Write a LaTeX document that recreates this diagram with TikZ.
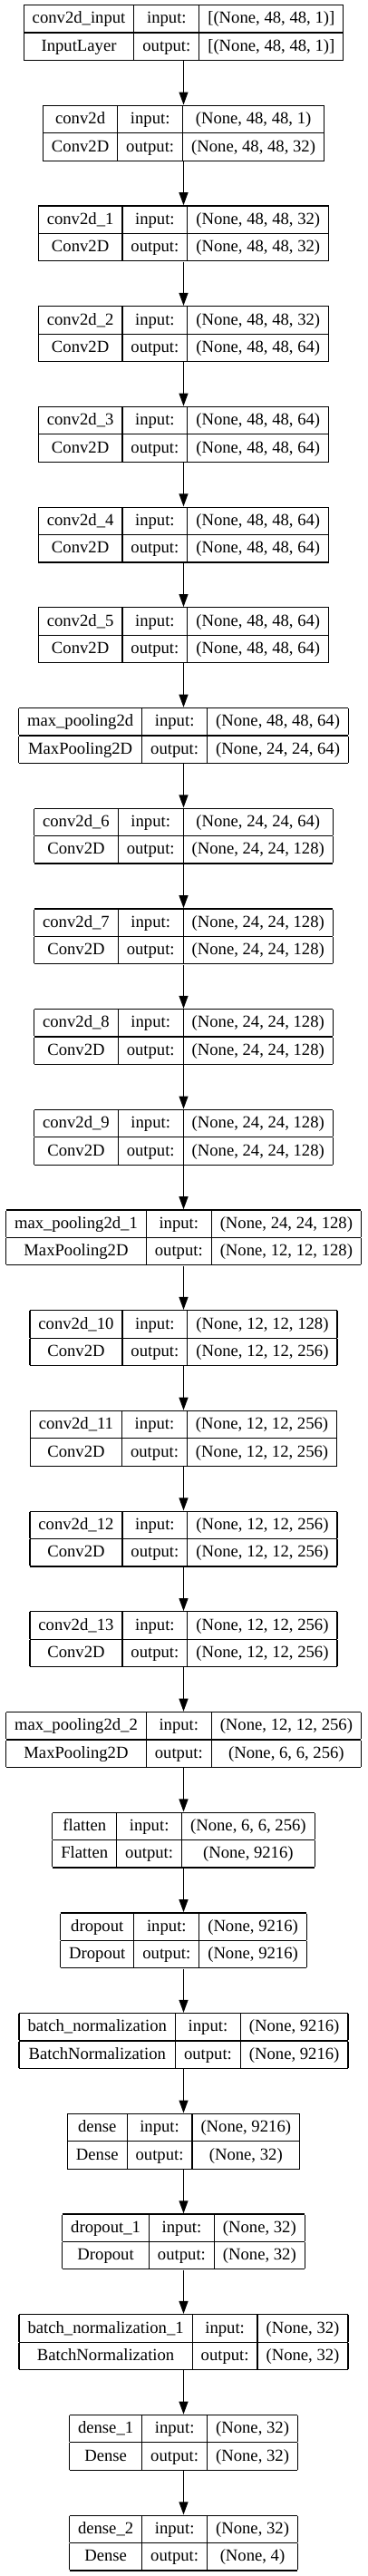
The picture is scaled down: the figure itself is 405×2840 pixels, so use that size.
\documentclass[tikz,border=0pt]{standalone}
\usepackage{fontspec}
\setmainfont{Liberation Serif}
\usepackage{tikz}
\usetikzlibrary{arrows.meta, positioning}
\setlength{\arrayrulewidth}{1.2bp}
\setlength{\tabcolsep}{9.5bp}
\newcommand{\rowstrut}{\rule[-9.5bp]{0pt}{29.2bp}}
\newcommand{\kerasbox}[4]{\begin{tabular}{|c|c|c|}\hline
\rowstrut #1 & input: & #3\\\hline
\rowstrut #2 & output: & #4\\\hline
\end{tabular}}
\tikzset{layer/.style = {inner sep=0pt, font=\fontsize{18.67bp}{22bp}\selectfont}}
\tikzset{arrow/.style = {line width=1.2bp, -{Triangle[length=14bp, width=10bp]}}}

\begin{document}
\begin{tikzpicture}[x=1bp, y=-1bp, node distance=110.7bp, on grid]
\useasboundingbox (0,0) rectangle (405,2840);
\node (input) [layer] at (202.5,36) {\kerasbox{conv2d\_input}{InputLayer}{[(None, 48, 48, 1)]}{[(None, 48, 48, 1)]}};
\node (c0) [layer, below=of input] {\kerasbox{conv2d}{Conv2D}{(None, 48, 48, 1)}{(None, 48, 48, 32)}};
\node (c1) [layer, below=of c0] {\kerasbox{conv2d\_1}{Conv2D}{(None, 48, 48, 32)}{(None, 48, 48, 32)}};
\node (c2) [layer, below=of c1] {\kerasbox{conv2d\_2}{Conv2D}{(None, 48, 48, 32)}{(None, 48, 48, 64)}};
\node (c3) [layer, below=of c2] {\kerasbox{conv2d\_3}{Conv2D}{(None, 48, 48, 64)}{(None, 48, 48, 64)}};
\node (c4) [layer, below=of c3] {\kerasbox{conv2d\_4}{Conv2D}{(None, 48, 48, 64)}{(None, 48, 48, 64)}};
\node (c5) [layer, below=of c4] {\kerasbox{conv2d\_5}{Conv2D}{(None, 48, 48, 64)}{(None, 48, 48, 64)}};
\node (p0) [layer, below=of c5] {\kerasbox{max\_pooling2d}{MaxPooling2D}{(None, 48, 48, 64)}{(None, 24, 24, 64)}};
\node (c6) [layer, below=of p0] {\kerasbox{conv2d\_6}{Conv2D}{(None, 24, 24, 64)}{(None, 24, 24, 128)}};
\node (c7) [layer, below=of c6] {\kerasbox{conv2d\_7}{Conv2D}{(None, 24, 24, 128)}{(None, 24, 24, 128)}};
\node (c8) [layer, below=of c7] {\kerasbox{conv2d\_8}{Conv2D}{(None, 24, 24, 128)}{(None, 24, 24, 128)}};
\node (c9) [layer, below=of c8] {\kerasbox{conv2d\_9}{Conv2D}{(None, 24, 24, 128)}{(None, 24, 24, 128)}};
\node (p1) [layer, below=of c9] {\kerasbox{max\_pooling2d\_1}{MaxPooling2D}{(None, 24, 24, 128)}{(None, 12, 12, 128)}};
\node (c10) [layer, below=of p1] {\kerasbox{conv2d\_10}{Conv2D}{(None, 12, 12, 128)}{(None, 12, 12, 256)}};
\node (c11) [layer, below=of c10] {\kerasbox{conv2d\_11}{Conv2D}{(None, 12, 12, 256)}{(None, 12, 12, 256)}};
\node (c12) [layer, below=of c11] {\kerasbox{conv2d\_12}{Conv2D}{(None, 12, 12, 256)}{(None, 12, 12, 256)}};
\node (c13) [layer, below=of c12] {\kerasbox{conv2d\_13}{Conv2D}{(None, 12, 12, 256)}{(None, 12, 12, 256)}};
\node (p2) [layer, below=of c13] {\kerasbox{max\_pooling2d\_2}{MaxPooling2D}{(None, 12, 12, 256)}{(None, 6, 6, 256)}};
\node (flat) [layer, below=of p2] {\kerasbox{flatten}{Flatten}{(None, 6, 6, 256)}{(None, 9216)}};
\node (drop0) [layer, below=of flat] {\kerasbox{dropout}{Dropout}{(None, 9216)}{(None, 9216)}};
\node (bn0) [layer, below=of drop0] {\kerasbox{batch\_normalization}{BatchNormalization}{(None, 9216)}{(None, 9216)}};
\node (d0) [layer, below=of bn0] {\kerasbox{dense}{Dense}{(None, 9216)}{(None, 32)}};
\node (drop1) [layer, below=of d0] {\kerasbox{dropout\_1}{Dropout}{(None, 32)}{(None, 32)}};
\node (bn1) [layer, below=of drop1] {\kerasbox{batch\_normalization\_1}{BatchNormalization}{(None, 32)}{(None, 32)}};
\node (d1) [layer, below=of bn1] {\kerasbox{dense\_1}{Dense}{(None, 32)}{(None, 32)}};
\node (d2) [layer, below=of d1] {\kerasbox{dense\_2}{Dense}{(None, 32)}{(None, 4)}};
\foreach \a/\b in {input/c0, c0/c1, c1/c2, c2/c3, c3/c4, c4/c5, c5/p0, p0/c6, c6/c7, c7/c8, c8/c9, c9/p1, p1/c10, c10/c11, c11/c12, c12/c13, c13/p2, p2/flat, flat/drop0, drop0/bn0, bn0/d0, d0/drop1, drop1/bn1, bn1/d1, d1/d2}
  \draw [arrow] (\a) -- (\b);
\end{tikzpicture}
\end{document}
